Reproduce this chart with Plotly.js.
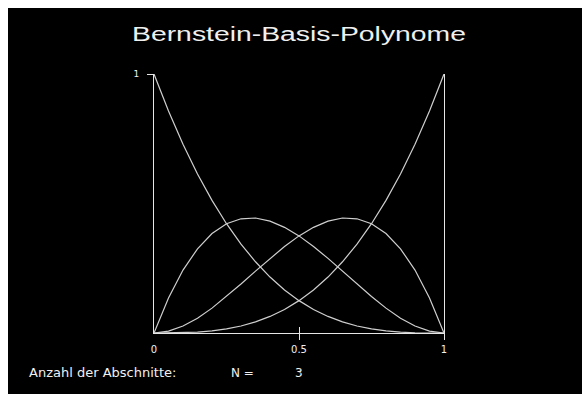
<!DOCTYPE html>
<html>
<head>
<meta charset="utf-8">
<script src="https://cdn.plot.ly/plotly-3.0.1.min.js"></script>
<style>
  html, body { margin: 0; padding: 0; background: #ffffff; }
  #chart { position: absolute; left: 8px; top: 8px; width: 574px; height: 386px; }
</style>
</head>
<body>
<div id="chart"></div>
<script>
// Parameter values t on [0, 1]
const t = [0, 0.05, 0.1, 0.15, 0.2, 0.25, 0.3, 0.35, 0.4, 0.45, 0.5,
           0.55, 0.6, 0.65, 0.7, 0.75, 0.8, 0.85, 0.9, 0.95, 1];

// Cubic Bernstein basis polynomials B0..B3 sampled at t
const b0 = [1, 0.857, 0.729, 0.614, 0.512, 0.422, 0.343, 0.275, 0.216, 0.166, 0.125,
            0.091, 0.064, 0.043, 0.027, 0.016, 0.008, 0.003, 0.001, 0.0001, 0];
const b1 = [0, 0.135, 0.243, 0.325, 0.384, 0.422, 0.441, 0.444, 0.432, 0.408, 0.375,
            0.334, 0.288, 0.239, 0.189, 0.141, 0.096, 0.057, 0.027, 0.007, 0];
const b2 = [0, 0.007, 0.027, 0.057, 0.096, 0.141, 0.189, 0.239, 0.288, 0.334, 0.375,
            0.408, 0.432, 0.444, 0.441, 0.422, 0.384, 0.325, 0.243, 0.135, 0];
const b3 = [0, 0.0001, 0.001, 0.003, 0.008, 0.016, 0.027, 0.043, 0.064, 0.091, 0.125,
            0.166, 0.216, 0.275, 0.343, 0.422, 0.512, 0.614, 0.729, 0.857, 1];

// Axis ticks and labels
const xTickVals = [0, 0.5, 1];
const xTickText = ['0', '0.5', '1'];
const yTickVals = [1];
const yTickText = ['1'];

// Number of segments shown in the footer
const segments = 3;

const curveColor = '#cfcfcf';
const axisColor = '#e6e6e6';
const textColor = '#f0f0f0';
const fontFamily = 'DejaVu Sans, Liberation Sans, sans-serif';
const titleFamily = 'Liberation Sans, Arial, sans-serif';

const curves = [b0, b1, b2, b3].map(function (vals) {
  return {
    x: t, y: vals, type: 'scatter', mode: 'lines',
    line: { color: curveColor, width: 1.2 },
    hoverinfo: 'skip', showlegend: false
  };
});

// Empty traces to bring up the overlay axes that carry the crossing tick marks
const tickHolders = [
  { x: [], y: [], xaxis: 'x2', yaxis: 'y', showlegend: false, hoverinfo: 'skip' },
  { x: [], y: [], xaxis: 'x3', yaxis: 'y', showlegend: false, hoverinfo: 'skip' },
  { x: [], y: [], xaxis: 'x', yaxis: 'y2', showlegend: false, hoverinfo: 'skip' },
  { x: [], y: [], xaxis: 'x', yaxis: 'y3', showlegend: false, hoverinfo: 'skip' }
];

const baseAxis = {
  range: [0, 1], showgrid: false, zeroline: false, fixedrange: true
};

const layout = {
  paper_bgcolor: '#000000',
  plot_bgcolor: '#000000',
  margin: { l: 146, r: 138, t: 66, b: 61 },
  font: { family: fontFamily, color: textColor },
  title: {
    text: 'Bernstein-Basis-Polynome',
    font: { family: titleFamily, size: 20, color: textColor },
    xref: 'paper', x: 0.5, xanchor: 'center',
    yref: 'container', y: 0.932, yanchor: 'middle'
  },
  xaxis: Object.assign({}, baseAxis, {
    showline: true, linecolor: axisColor, linewidth: 1,
    tickmode: 'array', tickvals: xTickVals, ticktext: xTickText,
    ticks: '', ticklabelstandoff: 7,
    tickfont: { family: fontFamily, size: 10, color: textColor }
  }),
  xaxis2: Object.assign({}, baseAxis, {
    overlaying: 'x', anchor: 'y', side: 'bottom',
    tickmode: 'array', tickvals: [0.5, 1], ticks: 'outside', ticklen: 6,
    tickcolor: axisColor, tickwidth: 1, showticklabels: false, showline: false
  }),
  xaxis3: Object.assign({}, baseAxis, {
    overlaying: 'x', anchor: 'y', side: 'bottom',
    tickmode: 'array', tickvals: [0.5], ticks: 'inside', ticklen: 6,
    tickcolor: axisColor, tickwidth: 1, showticklabels: false, showline: false
  }),
  yaxis: Object.assign({}, baseAxis, {
    showline: true, mirror: true, linecolor: axisColor, linewidth: 1,
    tickmode: 'array', tickvals: yTickVals, ticktext: yTickText,
    ticks: '', ticklabelstandoff: 12,
    tickfont: { family: fontFamily, size: 9, color: textColor }
  }),
  yaxis2: Object.assign({}, baseAxis, {
    overlaying: 'y', anchor: 'x', side: 'left',
    tickmode: 'array', tickvals: yTickVals, ticks: 'outside', ticklen: 6,
    tickcolor: axisColor, tickwidth: 1, showticklabels: false, showline: false
  }),
  yaxis3: Object.assign({}, baseAxis, {
    overlaying: 'y', anchor: 'x', side: 'left',
    tickmode: 'array', tickvals: yTickVals, ticks: 'inside', ticklen: 7,
    tickcolor: axisColor, tickwidth: 1, showticklabels: false, showline: false
  }),
  annotations: [
    {
      text: 'Anzahl der Abschnitte:', xref: 'paper', yref: 'paper',
      x: -0.438, y: -0.1544, xanchor: 'left', yanchor: 'middle',
      showarrow: false, font: { family: fontFamily, size: 13, color: textColor }
    },
    {
      text: 'N =', xref: 'paper', yref: 'paper',
      x: 0.258, y: -0.1544, xanchor: 'left', yanchor: 'middle',
      showarrow: false, font: { family: fontFamily, size: 12, color: textColor }
    },
    {
      text: String(segments), xref: 'x', yref: 'paper',
      x: 0.5, y: -0.1544, xanchor: 'center', yanchor: 'middle',
      showarrow: false, font: { family: fontFamily, size: 12, color: textColor }
    }
  ]
};

Plotly.newPlot('chart', curves.concat(tickHolders), layout,
  { staticPlot: true, displayModeBar: false }).then(function (gd) {
  // The heading is set in a wide, flat letterform: stretch its glyphs sideways
  const heading = gd.querySelector('.gtitle');
  if (heading) {
    heading.setAttribute('textLength', '334');
    heading.setAttribute('lengthAdjust', 'spacingAndGlyphs');
  }
});
</script>
</body>
</html>
